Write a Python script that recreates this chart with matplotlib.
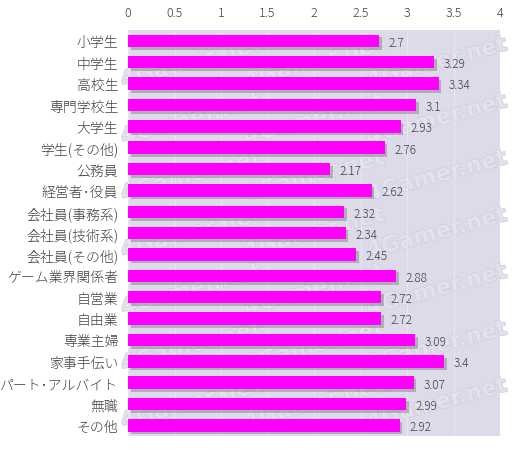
import matplotlib
matplotlib.use("Agg")
import matplotlib.pyplot as plt
import matplotlib.patheffects as pe

plt.rcParams['font.family'] = ['Noto Sans CJK JP', 'DejaVu Sans']

categories = ["小学生", "中学生", "高校生", "専門学校生", "大学生", "学生(その他)", "公務員",
              "経営者･役員", "会社員(事務系)", "会社員(技術系)", "会社員(その他)", "ゲーム業界関係者",
              "自営業", "自由業", "専業主婦", "家事手伝い", "パート･アルバイト", "無職", "その他"]
values = [2.7, 3.29, 3.34, 3.1, 2.93, 2.76, 2.17, 2.62, 2.32, 2.34, 2.45, 2.88,
          2.72, 2.72, 3.09, 3.4, 3.07, 2.99, 2.92]
value_labels = ["2.7", "3.29", "3.34", "3.1", "2.93", "2.76", "2.17", "2.62", "2.32", "2.34",
                "2.45", "2.88", "2.72", "2.72", "3.09", "3.4", "3.07", "2.99", "2.92"]
xticks = [0, 0.5, 1, 1.5, 2, 2.5, 3, 3.5, 4]
xtick_labels = ["0", "0.5", "1", "1.5", "2", "2.5", "3", "3.5", "4"]

fig = plt.figure(figsize=(5.12, 4.52), dpi=100)
ax = fig.add_axes([0.25, 0.033, 0.7266, 0.898])
ax.set_facecolor('#dddbe9')

n = len(categories)
ypos = list(range(n))

# decorative watermark (kept fully inside the plot area)
for col in range(3):
    for row in range(7):
        ax.text(0.17 + col * 0.33, 0.08 + row * 0.14, "4Gamer.net", transform=ax.transAxes,
                rotation=15, fontsize=16, fontweight='bold', color='#e3e1ed', ha='center', va='center',
                family='DejaVu Sans', zorder=1,
                path_effects=[pe.withStroke(linewidth=1.2, foreground='#d2d0dd')])

ax.barh(ypos, values, height=0.58, color='#ff00ff', zorder=3,
        path_effects=[pe.SimplePatchShadow(offset=(2, -2), shadow_rgbFace='#777777', alpha=0.45), pe.Normal()])
for y, v, lab in zip(ypos, values, value_labels):
    ax.annotate(lab, (v, y), xytext=(7, -1), textcoords='offset points', va='center', ha='left',
                fontsize=8.5, color='#404040', zorder=4, fontweight='light')

ax.set_xlim(0, 4)
ax.set_ylim(n - 0.5, -0.5)
ax.set_xticks(xticks)
ax.set_xticklabels(xtick_labels, fontweight='light')
ax.xaxis.tick_top()
ax.tick_params(axis='x', length=0, pad=8, labelsize=9, labelcolor='#404040')
ax.set_yticks(ypos)
ax.set_yticklabels(categories, fontweight='light')
ax.tick_params(axis='y', length=0, pad=7, labelsize=10, labelcolor='#404040')
ax.grid(axis='x', color='#e8e6f2', linewidth=0.8, zorder=2)
for s in ax.spines.values():
    s.set_visible(False)

fig.savefig('out.png', dpi=100, facecolor='white')
